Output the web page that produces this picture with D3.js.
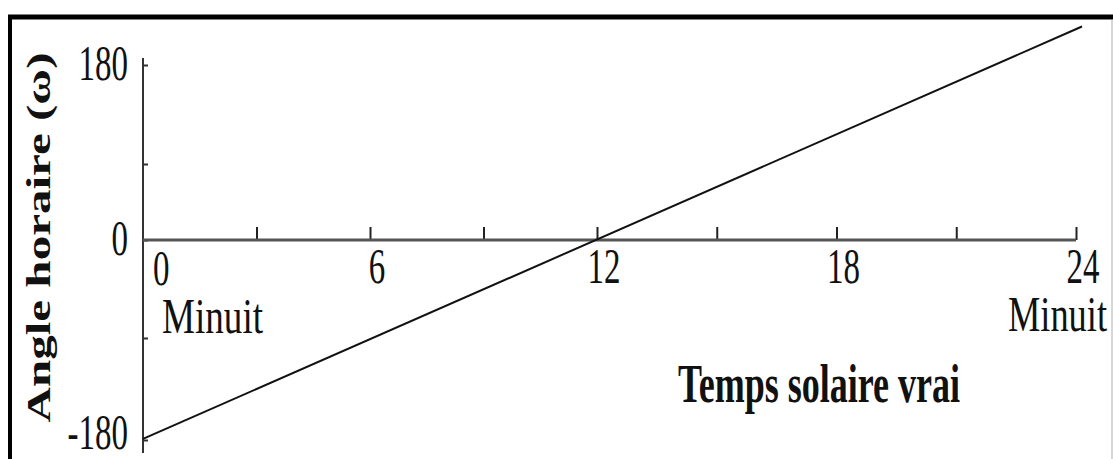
<!DOCTYPE html>
<html>
<head>
<meta charset="utf-8">
<script src="https://cdn.jsdelivr.net/npm/d3@7/dist/d3.min.js"></script>
<style>
  html, body { margin: 0; padding: 0; background: #fff; }
  svg { display: block; }
  text { font-family: "Liberation Serif", "Times New Roman", serif; fill: #111; }
</style>
</head>
<body>
<script>
// ---- data ----
const hourTicks = [0, 3, 6, 9, 12, 15, 18, 21, 24];
const hourLabels = [0, 6, 12, 18, 24];
const angleTicks = [-180, -90, 0, 90, 180];
const angleLabels = [-180, 0, 180];
const lineHours = [0, 24.15];
const lineAngles = [-179, 215];
const xTitle = "Temps solaire vrai";
const yTitle = "Angle horaire (\u03c9)";
const midnightLabel = "Minuit";

const W = 1113, H = 459;
const svg = d3.select("body").append("svg").attr("width", W).attr("height", H);
svg.append("rect").attr("width", W).attr("height", H).attr("fill", "#fff");

// frame
svg.append("line").attr("x1", 8).attr("x2", W).attr("y1", 17).attr("y2", 17)
  .attr("stroke", "#000").attr("stroke-width", 5);
svg.append("line").attr("x1", 10).attr("x2", 10).attr("y1", 15).attr("y2", H)
  .attr("stroke", "#000").attr("stroke-width", 4);
svg.append("line").attr("x1", 1112).attr("x2", 1112).attr("y1", 20).attr("y2", H)
  .attr("stroke", "#c8c8c8").attr("stroke-width", 1.5);

// scales (the source image is slightly non-uniform)
const x = d3.scaleLinear().domain([0, 12, 24]).range([143, 597, 1076]);
const y = d3.scaleLinear().domain([-180, -90, 0, 90, 180]).range([440, 338, 240, 164, 65]);

// y axis
const gy = svg.append("g").attr("transform", `translate(${x(0)},0)`)
  .call(d3.axisRight(y).tickValues(angleTicks).tickSize(5).tickSizeOuter(0).tickFormat(""));
gy.select(".domain").remove();
gy.selectAll(".tick line").attr("stroke", "#333").attr("stroke-width", 2);
gy.append("line").attr("x1", 0).attr("x2", 0).attr("y1", y(180) - 7).attr("y2", y(-180) + 13)
  .attr("stroke", "#333").attr("stroke-width", 2);

// x axis
const gx = svg.append("g").attr("transform", `translate(0,${y(0)})`)
  .call(d3.axisTop(x).tickValues(hourTicks.filter(d => d > 0)).tickSize(13).tickSizeOuter(0).tickFormat(""));
gx.select(".domain").remove();
gx.selectAll(".tick line").attr("stroke", "#222").attr("stroke-width", 2);
gx.append("line").attr("x1", x(0)).attr("x2", x(24)).attr("y1", 0).attr("y2", 0)
  .attr("stroke", "#555").attr("stroke-width", 3);

// text helper: source text is stretched vertically
function label(px, py, str, o) {
  const g = svg.append("g").attr("transform", `translate(${px},${py}) scale(1,${o.sy || 1.55})`);
  const t = g.append("text").attr("x", 0).attr("y", 0)
    .attr("font-size", o.size).attr("text-anchor", o.anchor || "middle")
    .attr("font-weight", o.bold ? "bold" : "normal")
    .text(str);
  if (o.len) t.attr("textLength", o.len).attr("lengthAdjust", "spacingAndGlyphs");
  return t;
}

// y tick labels
angleLabels.forEach(v => label(128, v === -180 ? y(v) + 9 : y(v) + 15, String(v), { size: 33, anchor: "end" }));

// x tick labels
hourLabels.forEach(v => {
  if (v === 0) label(x(v) + 10, 285, String(v), { size: 33, anchor: "start" });
  else label(x(v) + 7, 283, String(v), { size: 33, anchor: "middle" });
});

// Minuit labels
label(x(0) + 19, 333, midnightLabel, { size: 36, anchor: "start", sy: 1.42, len: 101 });
label(x(24) + 31, 331, midnightLabel, { size: 36, anchor: "end", sy: 1.42, len: 99 });

// x title
label(678, 402, xTitle, { size: 35, anchor: "start", bold: true, sy: 1.55, len: 282 });

// y title (rotated; stretch is along its length)
svg.append("text")
  .attr("transform", `translate(50,${(423 + 52) / 2}) rotate(-90)`)
  .attr("text-anchor", "middle").attr("font-size", 34).attr("font-weight", "bold")
  .attr("textLength", 370).attr("lengthAdjust", "spacingAndGlyphs")
  .text(yTitle);

// the line
const pts = lineHours.map((h, i) => [h, lineAngles[i]]);
svg.append("path").datum(pts)
  .attr("d", d3.line().x(d => x(d[0])).y(d => y(d[1])))
  .attr("fill", "none").attr("stroke", "#111").attr("stroke-width", 2);
</script>
</body>
</html>
